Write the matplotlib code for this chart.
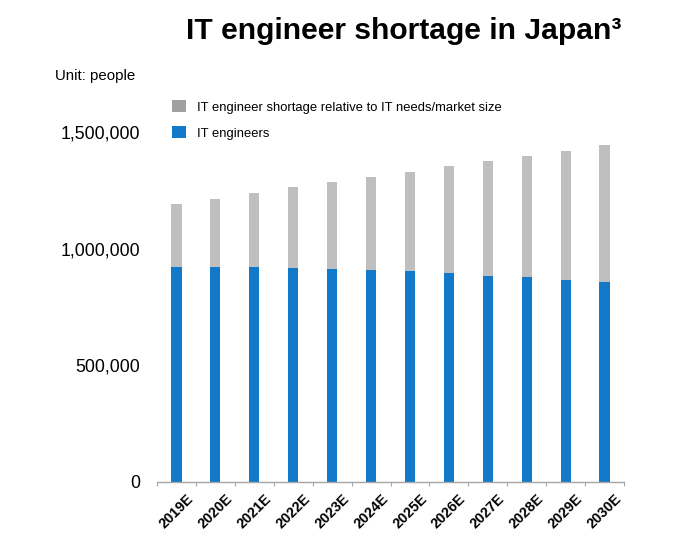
import matplotlib

matplotlib.use("Agg")
import matplotlib.pyplot as plt
from matplotlib.patches import Patch
from matplotlib.ticker import FuncFormatter, MultipleLocator
import numpy as np

years = ["2019E", "2020E", "2021E", "2022E", "2023E", "2024E",
         "2025E", "2026E", "2027E", "2028E", "2029E", "2030E"]
engineers = [923000, 923000, 920000, 917000, 913000, 909000,
             904000, 894000, 884000, 877000, 867000, 857000]
totals = [1192000, 1216000, 1240000, 1266000, 1288000, 1310000,
          1332000, 1356000, 1378000, 1400000, 1422000, 1445000]
shortage = [t - e for t, e in zip(totals, engineers)]

BLUE = "#1278C8"
GRAY = "#BFBFBF"
GRAY_LEGEND = "#A0A0A0"

plt.rcParams["font.family"] = ["Liberation Sans", "DejaVu Sans"]

fig = plt.figure(figsize=(6.9, 5.34), dpi=100)
ax = fig.add_axes([157 / 690, 52.5 / 534, 467 / 690, 372.3 / 534])

x = np.arange(len(years))
ax.bar(x, engineers, width=0.26, color=BLUE, edgecolor="none")
ax.bar(x, shortage, width=0.26, bottom=engineers, color=GRAY, edgecolor="none")

ax.set_xlim(-0.5, len(years) - 0.5)
ax.set_ylim(0, 1600000)
ax.yaxis.set_major_locator(MultipleLocator(500000))
ax.yaxis.set_major_formatter(FuncFormatter(lambda v, _: f"{int(v):,}"))
ax.tick_params(axis="y", length=0, pad=12, labelsize=12.8)

ax.set_xticks(x)
ax.set_xticklabels(years, rotation=45, ha="center", fontsize=10.4, fontweight="bold")
ax.set_xticks(np.arange(-0.5, len(years)), minor=True)
ax.tick_params(axis="x", which="major", length=0, pad=7)
ax.tick_params(axis="x", which="minor", length=3, color="#A6A6A6", width=0.8)

for side in ["top", "right", "left"]:
    ax.spines[side].set_visible(False)
ax.spines["bottom"].set_color("#A6A6A6")
ax.spines["bottom"].set_linewidth(1.0)

fig.text(404 / 690, 1 - 31 / 534, "IT engineer shortage in Japan\u00b3",
         ha="center", va="center", fontsize=21.6, fontweight="bold")
fig.text(55 / 690, 1 - 76 / 534, "Unit: people", ha="left", va="center",
         fontsize=10.8)

handles = [
    Patch(facecolor=GRAY_LEGEND, edgecolor="none",
          label="IT engineer shortage relative to IT needs/market size"),
    Patch(facecolor=BLUE, edgecolor="none", label="IT engineers"),
]
fig.legend(handles=handles, loc="upper left",
           bbox_to_anchor=(172 / 690, 1 - 100 / 534), frameon=False,
           fontsize=9.4, borderpad=0, borderaxespad=0,
           handlelength=1.08, handleheight=1.08, handletextpad=0.8,
           labelspacing=0.95)

fig.savefig("out.png", dpi=100)
